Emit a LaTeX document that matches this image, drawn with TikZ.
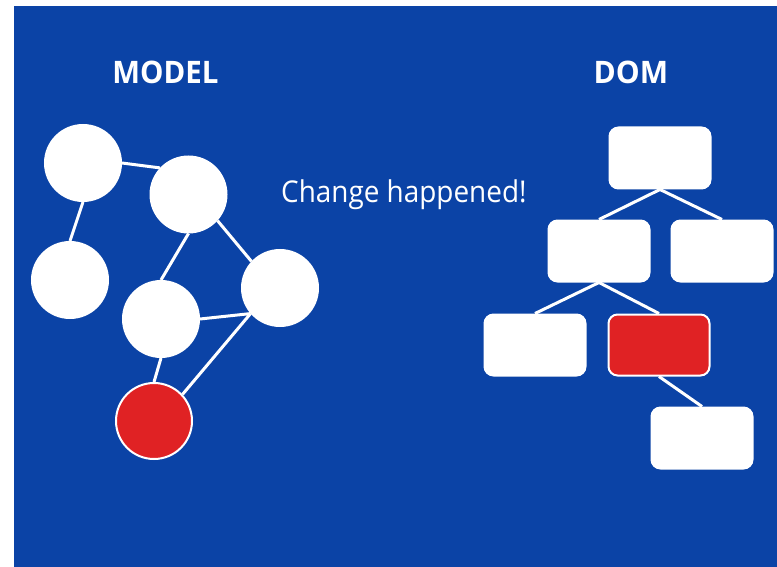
\documentclass[tikz,border=0pt]{standalone}
\usepackage{fontspec}
\setmainfont{Open Sans}
\usetikzlibrary{backgrounds}
\pgfdeclarelayer{edges}
\pgfsetlayers{background,edges,main}
\definecolor{bgblue}{RGB}{11,67,166}
\definecolor{hotred}{RGB}{224,34,36}
\begin{document}
\begin{tikzpicture}[x=1pt,y=-1pt,
  ball/.style={circle, fill=white, draw=white, line width=2pt, minimum size=76pt, inner sep=0pt},
  hotball/.style={ball, fill=hotred},
  box/.style={rectangle, rounded corners=9pt, fill=white, draw=white, line width=2pt, minimum width=101pt, minimum height=61pt, inner sep=0pt},
  hotbox/.style={box, fill=hotred},
  link/.style={white, line width=3pt},
  title/.style={font=\fontsize{31}{31}\selectfont\bfseries, text=white, anchor=base, inner sep=0pt},
  note/.style={font=\fontsize{30}{30}\selectfont, text=white, anchor=base west, inner sep=0pt}]
\begin{scope}[on background layer]
  \useasboundingbox (0,0) rectangle (777,567);
  \fill[white] (0,0) rectangle (777,567);
  \fill[bgblue] (14,6) rectangle (777,567);
\end{scope}

% titles
\node[title] (model) at (165.5,84) {\scalebox{0.95}[1]{MODEL}};
\node[title] (dom) at (631,84) {\scalebox{0.97}[1]{DOM}};
\node[note] (change) at (281,203) {\scalebox{0.93}[1]{Change happened!}};

% model graph
\node[ball] (c1) at (83,163) {};
\node[ball] (c2) at (188.5,194.5) {};
\node[ball] (c3) at (70,280) {};
\node[ball] (c4) at (161,319) {};
\node[ball] (c5) at (280,288) {};
\node[hotball] (c6) at (154,421) {};

% dom tree
\node[box] (r1) at (660,158) {};
\node[box] (r2) at (599,251) {};
\node[box] (r3) at (722,251) {};
\node[box] (r4) at (535,345) {};
\node[hotbox] (r5) at (659,345) {};
\node[box] (r6) at (702,438) {};

\begin{pgfonlayer}{edges}
  \draw[link] (c1.0) -- (c2.137);
  \draw[link] (c1.south) -- (c3.north);
  \draw[link] (c2.south) -- (c4.north);
  \draw[link] (c2.-42) -- (c5.137);
  \draw[link] (c4.east) -- (c5.221);
  \draw[link] (c4.south) -- (c6.north);
  \draw[link] (c5.221) -- (c6.43);
  \draw[link] (r1.south) -- (r2.north);
  \draw[link] (r1.south) -- (r3.north);
  \draw[link] (r2.south) -- (r4.north);
  \draw[link] (r2.south) -- (r5.north);
  \draw[link] (r5.south) -- (r6.north);
\end{pgfonlayer}
\end{tikzpicture}
\end{document}
